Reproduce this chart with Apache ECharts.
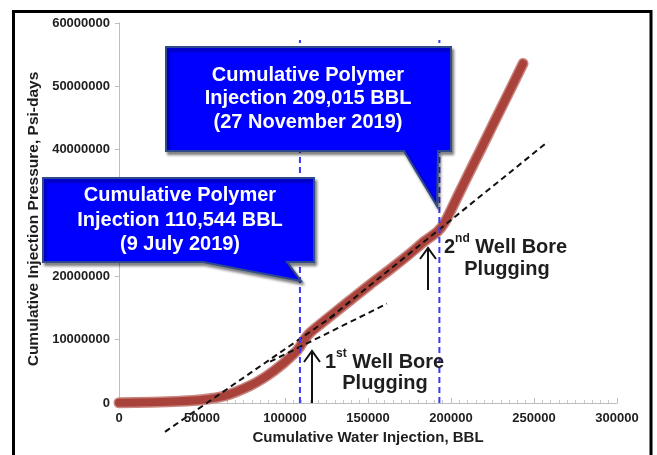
<!DOCTYPE html>
<html>
<head>
<meta charset="utf-8">
<script src="https://cdn.jsdelivr.net/npm/echarts@6/dist/echarts.min.js"></script>
<style>
html,body{margin:0;padding:0;background:#fff;}
#chart{width:657px;height:455px;}
</style>
</head>
<body>
<div id="chart"></div>
<script>
// ---- data ----
const curveX = [0, 18700, 36700, 50000, 63900, 78900, 89200, 98800, 106000, 109000, 112100, 115100, 121100, 130100, 139200, 151200, 163300, 175300, 184300, 191600, 196400, 205400, 211400, 217500, 223500, 229500, 236700, 243400];
const curveY = [50000, 130000, 280000, 520000, 1150000, 2730000, 4310000, 6210000, 7940000, 8890000, 10150000, 11100000, 12400000, 14300000, 16200000, 18700000, 21100000, 23600000, 25600000, 27000000, 28600000, 33400000, 36600000, 39800000, 43000000, 46200000, 50000000, 53600000];

const trend1X = [27700, 130100];
const trend1Y = [-4550000, 13940000];
const trend2X = [91000, 161400];
const trend2Y = [6520000, 15680000];
const trend3X = [127100, 258400];
const trend3Y = [13470000, 41260000];

const plugX = [109000, 193000];
const plugTopY = 57300000;

const xTicks = [0, 50000, 100000, 150000, 200000, 250000, 300000];
const yTicks = [0, 10000000, 20000000, 30000000, 40000000, 50000000, 60000000];

const callout1Text = ['Cumulative Polymer', 'Injection 110,544 BBL', '(9 July 2019)'];
const callout2Text = ['Cumulative Polymer', 'Injection 209,015 BBL', '(27 November 2019)'];

const xTitle = 'Cumulative Water Injection, BBL';
const yTitle = 'Cumulative Injection Pressure, Psi-days';

// ---- build ----
const FONT = '"Liberation Sans", Arial, sans-serif';
const zip = (xs, ys) => xs.map((x, i) => [x, ys[i]]);

const chart = echarts.init(document.getElementById('chart'), null, {renderer: 'canvas'});

const trendStyle = {color: '#111', width: 2, type: [6, 4]};
const blueStyle = {color: '#3737ff', width: 2, type: [6, 4]};
const richSup = {
  n: {font: 'bold 20px ' + FONT, fill: '#1e1e1e', lineHeight: 24, verticalAlign: 'bottom'},
  s: {font: 'bold 12px ' + FONT, fill: '#1e1e1e', lineHeight: 21, verticalAlign: 'top'}
};

const option = {
  animation: false,
  backgroundColor: '#ffffff',
  grid: {left: 119, right: 40, top: 23, bottom: 52},
  xAxis: {
    type: 'value', min: xTicks[0], max: xTicks[xTicks.length - 1], interval: 50000,
    name: xTitle, nameLocation: 'middle', nameGap: 27,
    nameTextStyle: {fontFamily: FONT, fontWeight: 'bold', fontSize: 15, color: '#1e1e1e'},
    axisLine: {show: true, lineStyle: {color: '#bdbdbd', width: 1}},
    axisTick: {show: true, inside: true, length: 5, lineStyle: {color: '#bdbdbd'}},
    minorTick: {show: true, splitNumber: 10, length: 3, lineStyle: {color: '#c8c8c8'}},
    splitLine: {show: false},
    axisLabel: {margin: 9, fontFamily: FONT, fontWeight: 'bold', fontSize: 13, color: '#1e1e1e',
      formatter: v => String(v)}
  },
  yAxis: {
    type: 'value', min: yTicks[0], max: yTicks[yTicks.length - 1], interval: 10000000,
    name: yTitle, nameLocation: 'middle', nameGap: 68, nameRotate: 90,
    nameTextStyle: {fontFamily: FONT, fontWeight: 'bold', fontSize: 15.5, color: '#1e1e1e', padding: [0, 12, 0, 0]},
    axisLine: {show: true, lineStyle: {color: '#bdbdbd', width: 1}},
    axisTick: {show: true, inside: false, length: 4, lineStyle: {color: '#bdbdbd'}},
    splitLine: {show: false},
    axisLabel: {margin: 9, fontFamily: FONT, fontWeight: 'bold', fontSize: 13, color: '#1e1e1e',
      formatter: v => String(v)}
  },
  series: [
    {type: 'line', data: zip(curveX, curveY), smooth: 0.25, showSymbol: false, clip: false,
      lineStyle: {color: '#c98680', width: 11, cap: 'round', join: 'round'}, z: 2},
    {type: 'line', data: zip(curveX, curveY), smooth: 0.25, showSymbol: false, clip: false,
      lineStyle: {color: '#a8423b', width: 8, cap: 'round', join: 'round'}, z: 3},
    {type: 'line', data: zip(trend1X, trend1Y), showSymbol: false, clip: false, lineStyle: trendStyle, z: 4},
    {type: 'line', data: zip(trend2X, trend2Y), showSymbol: false, clip: false, lineStyle: trendStyle, z: 4},
    {type: 'line', data: zip(trend3X, trend3Y), showSymbol: false, clip: false, lineStyle: trendStyle, z: 4},
    {type: 'line', data: [[plugX[0], 0], [plugX[0], plugTopY]], showSymbol: false, lineStyle: blueStyle, z: 5},
    {type: 'line', data: [[plugX[1], 0], [plugX[1], plugTopY]], showSymbol: false, lineStyle: blueStyle, z: 5}
  ],
  graphic: [
    // outer frame
    {type: 'rect', z: 200, shape: {x: 13.5, y: 11.5, width: 637.5, height: 470},
      style: {fill: null, stroke: '#000', lineWidth: 3}},
    // callout 1
    {type: 'polygon', z: 100,
      shape: {points: [[43,178],[314,178],[314,262],[287,262],[301,281],[203,262],[43,262]]},
      style: {fill: '#0000ff', stroke: '#2f4b8c', lineWidth: 2,
        shadowBlur: 3, shadowOffsetX: 2, shadowOffsetY: 3, shadowColor: 'rgba(0,0,0,0.45)'}},
    {type: 'text', z: 101,
      style: {x: 180, y: 220, text: callout1Text.join('\n'), fill: '#ffffff',
        font: 'bold 20px ' + FONT, align: 'center', verticalAlign: 'middle', lineHeight: 24.5}},
    // callout 2
    {type: 'polygon', z: 100,
      shape: {points: [[166,47],[451,47],[451,151],[438,151],[437,206],[404,151],[166,151]]},
      style: {fill: '#0000ff', stroke: '#2f4b8c', lineWidth: 2,
        shadowBlur: 3, shadowOffsetX: 2, shadowOffsetY: 3, shadowColor: 'rgba(0,0,0,0.45)'}},
    {type: 'text', z: 101,
      style: {x: 308, y: 98.5, text: callout2Text.join('\n'), fill: '#ffffff',
        font: 'bold 20px ' + FONT, align: 'center', verticalAlign: 'middle', lineHeight: 23.5}},
    // plugging annotations
    {type: 'text', z: 90,
      style: {x: 325, y: 360, text: '{n|1}{s|st}{n| Well Bore}', align: 'left', verticalAlign: 'middle', rich: richSup}},
    {type: 'text', z: 90,
      style: {x: 385, y: 383, text: 'Plugging', fill: '#1e1e1e', font: 'bold 20px ' + FONT,
        align: 'center', verticalAlign: 'middle'}},
    {type: 'text', z: 90,
      style: {x: 444, y: 245, text: '{n|2}{s|nd}{n| Well Bore}', align: 'left', verticalAlign: 'middle', rich: richSup}},
    {type: 'text', z: 90,
      style: {x: 507, y: 269, text: 'Plugging', fill: '#1e1e1e', font: 'bold 20px ' + FONT,
        align: 'center', verticalAlign: 'middle'}},
    // arrows
    {type: 'polyline', z: 90, shape: {points: [[312,403],[312,351]]}, style: {stroke: '#111', lineWidth: 2}},
    {type: 'polyline', z: 90, shape: {points: [[304,362],[312,351],[320,362]]}, style: {stroke: '#111', lineWidth: 2, fill: null}},
    {type: 'polyline', z: 90, shape: {points: [[428,290],[428,248]]}, style: {stroke: '#111', lineWidth: 2}},
    {type: 'polyline', z: 90, shape: {points: [[420,259],[428,248],[436,259]]}, style: {stroke: '#111', lineWidth: 2, fill: null}}
  ]
};
chart.setOption(option);
</script>
</body>
</html>
